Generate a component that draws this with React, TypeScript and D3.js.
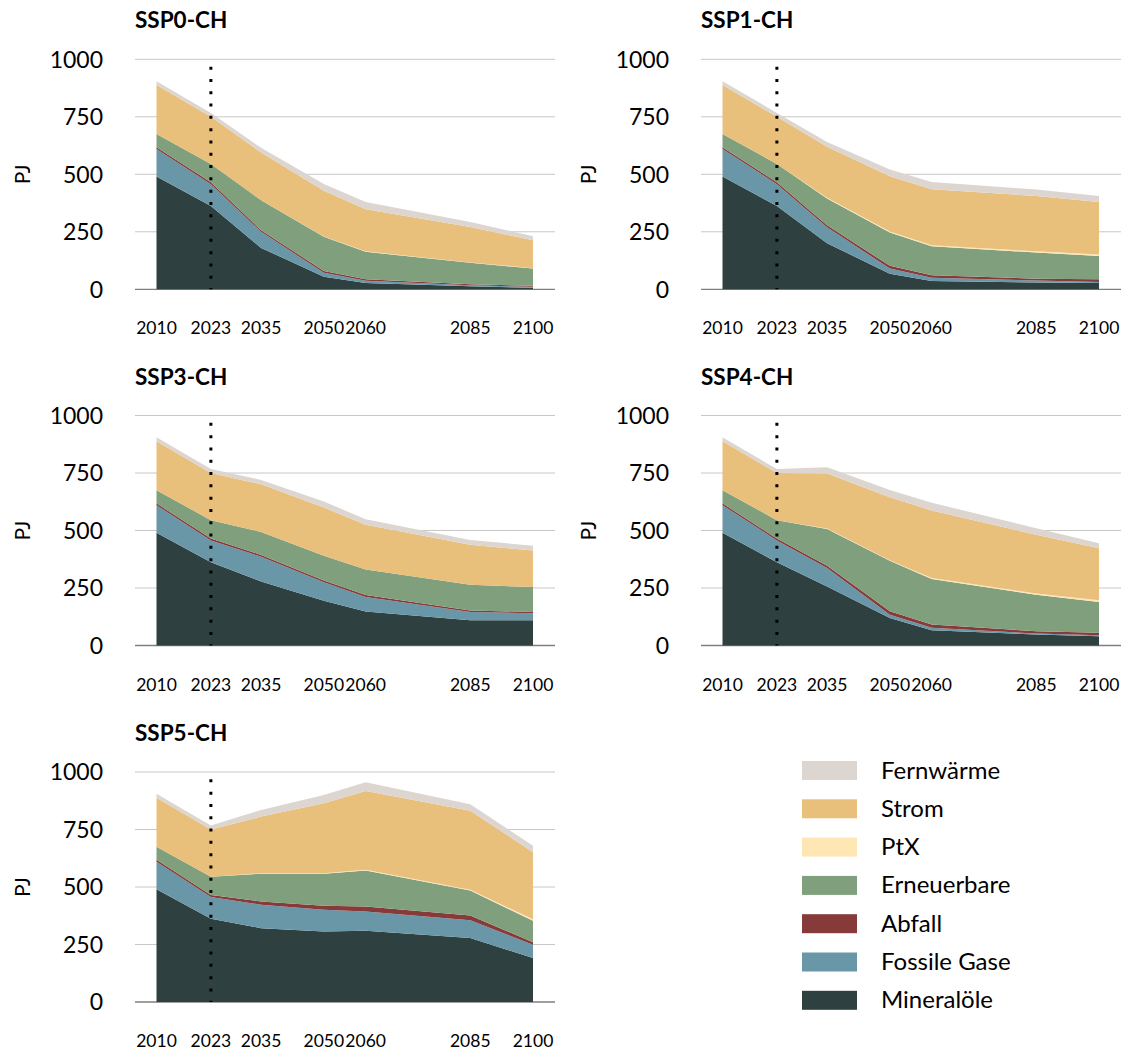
import React, { useEffect, useRef } from 'react';
import * as d3 from 'd3';

// Years on the x axis
const years = [2010, 2023, 2035, 2050, 2060, 2085, 2100];

// Stack order from bottom to top
const carriers = ['Mineralöle', 'Fossile Gase', 'Abfall', 'Erneuerbare', 'PtX', 'Strom', 'Fernwärme'];
const carrierColors = ['#2f4040', '#6a97a8', '#863b3a', '#809f7d', '#ffe6b5', '#e8bf7b', '#ddd5cf'];

// Values in PJ, one row per carrier (same order as carriers), one column per year
const ssp0: number[][] = [
  [490, 362, 180, 55, 27, 13, 7],
  [120, 95, 70, 17, 10, 5, 4],
  [8, 8, 7, 8, 7, 4, 4],
  [57, 80, 130, 148, 119, 93, 75],
  [0, 0, 0, 2, 2, 2, 2],
  [213, 205, 208, 198, 183, 154, 121],
  [17, 17, 20, 30, 32, 22, 18],
];
const ssp1: number[][] = [
  [490, 362, 200, 68, 36, 30, 27],
  [120, 95, 70, 22, 14, 8, 5],
  [8, 8, 8, 12, 11, 8, 12],
  [57, 80, 117, 145, 126, 114, 101],
  [0, 0, 3, 4, 5, 5, 6],
  [213, 205, 222, 240, 243, 241, 229],
  [17, 17, 20, 30, 32, 28, 26],
];
const ssp3: number[][] = [
  [490, 362, 278, 195, 148, 110, 110],
  [120, 95, 108, 80, 63, 36, 30],
  [8, 8, 8, 8, 9, 6, 6],
  [57, 80, 100, 107, 110, 112, 108],
  [0, 0, 0, 0, 0, 0, 0],
  [213, 205, 207, 210, 195, 174, 159],
  [17, 17, 19, 26, 24, 21, 21],
];
const ssp4: number[][] = [
  [490, 362, 257, 120, 66, 48, 40],
  [120, 95, 80, 14, 11, 4, 5],
  [8, 8, 10, 15, 14, 10, 10],
  [57, 80, 160, 219, 198, 159, 134],
  [0, 0, 2, 3, 5, 5, 8],
  [213, 205, 239, 274, 293, 255, 226],
  [17, 17, 27, 31, 34, 29, 22],
];
const ssp5: number[][] = [
  [490, 362, 321, 307, 310, 278, 191],
  [120, 95, 102, 94, 84, 77, 58],
  [8, 8, 14, 17, 21, 21, 11],
  [57, 80, 121, 140, 157, 109, 93],
  [0, 0, 2, 2, 3, 3, 7],
  [213, 205, 246, 304, 342, 343, 291],
  [17, 17, 29, 36, 38, 29, 28],
];

const panelTitles = ['SSP0-CH', 'SSP1-CH', 'SSP3-CH', 'SSP4-CH', 'SSP5-CH'];
const panelData = [ssp0, ssp1, ssp3, ssp4, ssp5];
const yTicks = [0, 250, 500, 750, 1000];
const markerYear = 2023;

const FONT = 'Lato, "Open Sans", sans-serif';

const App: React.FC = () => {
  const svgRef = useRef<SVGSVGElement>(null);

  useEffect(() => {
    if (!svgRef.current) return;
    const svg = d3.select(svgRef.current);
    svg.selectAll('*').remove();

    const colX = [135, 701];
    const rowY = [59.3, 415.5, 772];
    const plotH = 230;

    panelData.forEach((rows, i) => {
      const x0 = colX[i % 2];
      const yTop = rowY[Math.floor(i / 2)];
      const g = svg.append('g');

      const x = d3.scaleLinear().domain([2010, 2100]).range([x0 + 21.5, x0 + 398]);
      const y = d3.scaleLinear().domain([0, 1000]).range([yTop + plotH, yTop]);

      // gridlines + y labels
      yTicks.forEach(t => {
        g.append('line')
          .attr('x1', x0).attr('x2', x0 + 420)
          .attr('y1', y(t)).attr('y2', y(t))
          .attr('stroke', t === 0 ? '#7f7f7f' : '#c8c8c8')
          .attr('stroke-width', t === 0 ? 1.3 : 1);
        g.append('text')
          .attr('x', x0 - 32)
          .attr('y', y(t))
          .attr('dy', '0.36em')
          .attr('text-anchor', 'end')
          .attr('font-family', FONT)
          .attr('font-size', 23)
          .attr('fill', '#000')
          .text(t);
      });

      // stacked areas
      const table = years.map((yr, j) => {
        const row: Record<string, number> = { year: yr };
        carriers.forEach((c, k) => { row[c] = rows[k][j]; });
        return row;
      });
      const series = d3.stack<Record<string, number>>().keys(carriers)(table);
      const area = d3.area<d3.SeriesPoint<Record<string, number>>>()
        .x(d => x(d.data.year))
        .y0(d => y(d[0]))
        .y1(d => y(d[1]));

      g.selectAll('path.layer')
        .data(series)
        .join('path')
        .attr('class', 'layer')
        .attr('d', area)
        .attr('fill', (_, k) => carrierColors[k]);

      // 2023 marker
      g.append('line')
        .attr('x1', x(markerYear)).attr('x2', x(markerYear))
        .attr('y1', y(968)).attr('y2', y(0))
        .attr('stroke', '#000')
        .attr('stroke-width', 3)
        .attr('stroke-dasharray', '3 9.3');

      // x labels
      years.forEach(yr => {
        g.append('text')
          .attr('x', x(yr))
          .attr('y', yTop + plotH + 45)
          .attr('text-anchor', 'middle')
          .attr('font-family', FONT)
          .attr('font-size', 17.5)
          .attr('fill', '#000')
          .text(yr);
      });

      // axis title
      g.append('text')
        .attr('transform', `translate(${x0 - 113},${yTop + 115}) rotate(-90)`)
        .attr('text-anchor', 'middle')
        .attr('dy', '0.36em')
        .attr('font-family', FONT)
        .attr('font-size', 21)
        .attr('fill', '#000')
        .text('PJ');

      // panel title
      g.append('text')
        .attr('x', x0)
        .attr('y', yTop - 31)
        .attr('font-family', FONT)
        .attr('font-weight', 'bold')
        .attr('font-size', 22.5)
        .attr('fill', '#000')
        .text(panelTitles[i]);
    });

    // legend, top to bottom is the reversed stack
    const legend = svg.append('g');
    const legendItems = carriers.map((c, k) => ({ name: c, color: carrierColors[k] })).reverse();
    legendItems.forEach((item, k) => {
      const ly = 761 + k * 38.3;
      legend.append('rect')
        .attr('x', 802).attr('y', ly)
        .attr('width', 55).attr('height', 19)
        .attr('fill', item.color);
      legend.append('text')
        .attr('x', 881)
        .attr('y', ly + 17.5)
        .attr('font-family', FONT)
        .attr('font-size', 24)
        .attr('fill', '#000')
        .text(item.name);
    });
  }, []);

  return (
    <svg
      ref={svgRef}
      width={1126}
      height={1052}
      style={{ position: 'absolute', left: 0, top: 0, background: '#fff' }}
    />
  );
};

export default App;
